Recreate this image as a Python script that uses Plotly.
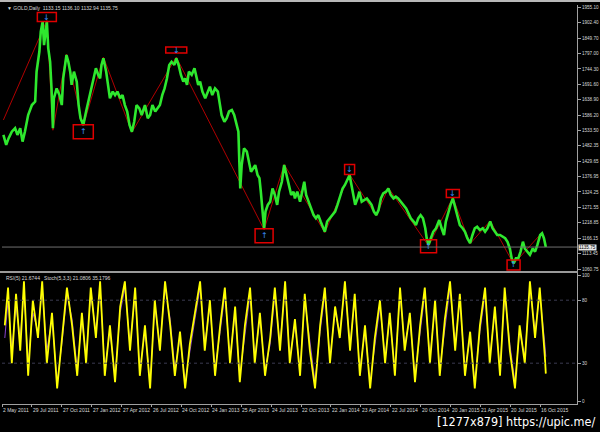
import plotly.graph_objects as go

# ---------------- data ----------------
date_labels = ["2 May 2011", "29 Jul 2011", "27 Oct 2011", "27 Jan 2012", "27 Apr 2012",
               "26 Jul 2012", "24 Oct 2012", "24 Jan 2013", "25 Apr 2013", "24 Jul 2013",
               "22 Oct 2013", "22 Jan 2014", "23 Apr 2014", "22 Jul 2014", "20 Oct 2014",
               "20 Jan 2015", "21 Apr 2015", "20 Jul 2015", "16 Oct 2015"]
bars_per_label = 64

price_bar = [3, 9, 14, 21, 28, 33, 39, 44, 49, 56, 64, 71, 74, 80, 83, 87, 90, 94, 96, 99,
             103, 106, 109, 111, 117, 123, 128, 131, 135, 138, 142, 146, 149, 154, 160, 164, 168, 174, 180, 185,
             190, 196, 201, 206, 210, 213, 217, 223, 228, 231, 237, 242, 247, 253, 258, 263, 268, 273, 278, 283,
             288, 294, 299, 304,
             306, 312, 317, 322, 328, 333, 338, 343, 348, 353, 358, 363, 369, 373, 378, 383, 388, 392, 396, 400,
             406, 412, 417, 420, 424, 429, 435, 440, 445, 450, 456, 462, 467, 470, 476, 481, 486, 492, 497, 502,
             506, 508, 510, 513, 518, 524, 529, 533, 538, 542, 547, 551, 554, 557, 561, 564, 569, 574, 579, 584,
             589, 593, 599, 604, 609, 614, 619, 624,
             627, 632, 638, 644, 647, 651, 656, 661, 667, 672, 677, 682, 688, 691, 696, 702, 708, 713, 718, 724,
             729, 734, 739, 744, 748, 752, 756, 761, 765, 770, 775, 781, 786, 791, 796, 801, 806, 811, 816, 822,
             827, 832, 838, 843, 848, 853, 859, 865, 870, 875, 881, 886, 891, 896, 901, 906, 909, 913, 918, 923,
             929, 934,
             936, 941, 946, 950, 955, 960, 965, 970, 975, 980, 986, 991, 996, 1002, 1007, 1012, 1017, 1023, 1029, 1034,
             1039, 1045, 1050, 1055, 1060, 1066, 1072, 1077, 1082, 1087, 1091, 1095, 1100, 1105, 1110, 1115, 1119, 1124, 1130, 1136,
             1141, 1146, 1152, 1156, 1160, 1164]
price = [1519, 1485, 1507, 1530, 1542, 1519, 1542, 1496, 1530, 1587, 1621, 1633, 1735, 1804, 1872, 1906, 1826, 1895, 1906, 1815,
         1769, 1678, 1542, 1644, 1678, 1655, 1621, 1712, 1758, 1792, 1769, 1735, 1690, 1735, 1701, 1621, 1576, 1553, 1599, 1633,
         1667, 1712, 1747, 1724, 1712, 1758, 1781, 1735, 1667, 1644, 1667, 1655, 1667, 1644, 1655, 1621, 1599, 1553, 1530, 1564,
         1621, 1610, 1587, 1610,
         1621, 1576, 1587, 1621, 1599, 1610, 1621, 1655, 1678, 1712, 1758, 1769, 1758, 1781, 1758, 1724, 1701, 1712, 1690, 1735,
         1724, 1747, 1712, 1690, 1701, 1667, 1644, 1667, 1684, 1655, 1678, 1667, 1621, 1587, 1564, 1576, 1599, 1604, 1587, 1553,
         1530, 1428, 1336, 1416, 1473, 1462, 1416, 1393, 1405, 1416, 1382, 1371, 1325, 1268, 1200, 1257, 1280, 1291, 1336, 1314,
         1280, 1325, 1359, 1416, 1382, 1359, 1314, 1325,
         1302, 1325, 1291, 1336, 1359, 1314, 1291, 1268, 1245, 1234, 1245, 1223, 1200, 1188, 1223, 1234, 1245, 1257, 1280, 1314,
         1336, 1348, 1365, 1382, 1348, 1314, 1280, 1302, 1325, 1291, 1297, 1302, 1291, 1280, 1257, 1245, 1262, 1302, 1319, 1325,
         1336, 1314, 1302, 1308, 1302, 1291, 1280, 1268, 1251, 1234, 1223, 1211, 1234, 1245, 1234, 1200, 1166, 1143, 1166, 1188,
         1200, 1223,
         1228, 1200, 1177, 1223, 1257, 1280, 1302, 1268, 1234, 1211, 1200, 1188, 1166, 1149, 1177, 1200, 1205, 1194, 1200, 1188,
         1200, 1223, 1200, 1188, 1177, 1177, 1171, 1166, 1154, 1131, 1097, 1080, 1097, 1097, 1120, 1154, 1131, 1120, 1109, 1131,
         1120, 1143, 1177, 1183, 1166, 1136]

zz_bar = [3, 96, 109, 138, 174, 217, 278, 373, 561, 604, 691, 744, 801, 827, 913, 965, 1002, 1045, 1095, 1156]
zz_price = [1570, 1910, 1535, 1795, 1550, 1785, 1528, 1785, 1195, 1418, 1185, 1384, 1243, 1338, 1140, 1305, 1147, 1225, 1078, 1185]

box_pivots = [1, 4, 7, 8, 11, 14, 15, 18]
box_is_high = [True, False, True, False, True, False, True, False]

last_price = 1135.75
price_ticks = [1955.10, 1902.40, 1849.70, 1797.00, 1744.30, 1691.60, 1638.90, 1586.20, 1533.50,
               1482.35, 1429.65, 1376.95, 1324.25, 1271.55, 1218.85, 1166.15, 1113.45, 1060.75]

osc_bar = [6, 13, 21, 30, 39, 47, 56, 66, 77, 86, 96, 107, 118, 128, 139, 150, 161, 171, 180, 190,
           201, 210, 220, 231, 242, 253, 263, 274, 285, 295, 306, 317, 327, 338, 349, 360, 370, 381, 392, 402,
           413, 424, 434, 445, 456, 467, 477, 488, 499, 509, 520, 531, 541, 552, 563, 574, 584, 595, 606, 616,
           627, 638, 648, 659, 670, 681, 691, 702, 713, 723, 734, 745, 755, 766, 777, 788, 798, 809, 820, 830,
           841, 852, 862, 873, 884, 895, 905, 916, 927, 937, 948, 959, 970, 980, 991, 1002, 1012, 1023, 1034, 1044,
           1055, 1066, 1076, 1087, 1098, 1108, 1119, 1130, 1141, 1151, 1162, 1164]
rsi = [60, 90, 30, 85, 40, 95, 20, 80, 50, 95, 30, 70, 10, 50, 90, 60, 20, 70, 30, 90,
       50, 95, 20, 60, 15, 75, 95, 40, 90, 20, 60, 10, 80, 40, 95, 60, 20, 55, 10, 45,
       70, 95, 40, 80, 20, 60, 90, 30, 75, 15, 60, 90, 30, 70, 20, 50, 90, 40, 95, 30,
       65, 20, 85, 40, 10, 60, 90, 30, 75, 50, 95, 40, 85, 20, 60, 10, 50, 80, 30, 70,
       20, 90, 40, 70, 15, 60, 90, 30, 80, 20, 65, 95, 40, 85, 20, 55, 10, 60, 90, 30,
       75, 20, 90, 40, 10, 60, 30, 95, 50, 90, 35, 21.7]
stoch = [50, 80, 40, 75, 50, 88, 30, 70, 55, 90, 40, 65, 15, 45, 85, 65, 25, 65, 35, 85,
         55, 90, 25, 55, 20, 70, 90, 45, 85, 25, 55, 15, 75, 45, 90, 65, 25, 50, 15, 40,
         65, 90, 45, 75, 25, 55, 85, 35, 70, 20, 55, 85, 35, 65, 25, 45, 85, 45, 90, 35,
         60, 25, 80, 45, 15, 55, 85, 35, 70, 55, 90, 45, 80, 25, 55, 15, 45, 75, 35, 65,
         25, 85, 45, 65, 20, 55, 85, 35, 75, 25, 60, 90, 45, 80, 25, 50, 15, 55, 85, 35,
         70, 25, 85, 45, 15, 55, 35, 90, 55, 85, 45, 35.2]
osc_levels = [80, 30]
osc_ticks = [100, 80, 30, 0]

# ---------------- figure ----------------
W, H = 600, 432
ML, MR, MT, MB = 2, 23, 5, 28
plot_h = H - MT - MB
split_px = 272
osc_top_px = 273
price_dom = [(H - MB - split_px) / plot_h, 1]
osc_dom = [0, (H - MB - osc_top_px) / plot_h]

def px_x(px):
    return (px - ML) / (W - ML - MR)

def px_y(py):
    return (H - MB - py) / plot_h

fig = go.Figure()
fig.add_trace(go.Scatter(x=zz_bar, y=zz_price, mode="lines",
                         line=dict(color="#b00000", width=1), hoverinfo="skip"))
fig.add_trace(go.Scatter(x=price_bar, y=price, mode="lines",
                         line=dict(color="#2ee82e", width=2.6), hoverinfo="skip"))
fig.add_trace(go.Scatter(x=osc_bar, y=stoch, mode="lines", yaxis="y2",
                         line=dict(color="#8a44cc", width=1), hoverinfo="skip"))
fig.add_trace(go.Scatter(x=osc_bar, y=rsi, mode="lines", yaxis="y2",
                         line=dict(color="#ffff00", width=1.8), hoverinfo="skip"))

shapes = []
box_w = [19, 20, 21, 18, 10, 16, 13, 13]
box_dy = [(-1, 8), (-13, 1), (4, 10), (-13, 1), (0, 10), (-7, 6), (0, 8), (-6, 4)]
annotations = []
for i, k in enumerate(box_pivots):
    b, p = zz_bar[k], zz_price[k]
    w = box_w[i]
    d0, d1 = box_dy[i]
    shapes.append(dict(type="rect", xref="x", yref="y", xsizemode="pixel", ysizemode="pixel",
                       xanchor=b, yanchor=p, x0=-w / 2, x1=w / 2, y0=d0, y1=d1,
                       line=dict(color="#e00000", width=1.5)))
    annotations.append(dict(x=b, y=p, xref="x", yref="y", yshift=(d0 + d1) / 2,
                            text="↓" if box_is_high[i] else "↑", showarrow=False,
                            font=dict(color="#3a8cff", size=8, family="DejaVu Sans")))

# current price line
shapes.append(dict(type="line", xref="x domain", yref="y", x0=0, x1=1, y0=last_price, y1=last_price,
                   line=dict(color="#707070", width=1)))
# oscillator levels
for lv in osc_levels:
    shapes.append(dict(type="line", xref="x domain", yref="y2", x0=0, x1=1, y0=lv, y1=lv,
                       line=dict(color="#3a3a50", width=1, dash="dot")))
# panel separator
shapes.append(dict(type="line", xref="paper", yref="paper", x0=px_x(0), x1=px_x(578),
                   y0=px_y(272), y1=px_y(272), line=dict(color="#9a9a9a", width=2)))
# top bar
shapes.append(dict(type="rect", xref="paper", yref="paper", x0=px_x(0), x1=px_x(600),
                   y0=px_y(2), y1=px_y(0), fillcolor="#b8b8b8", line=dict(width=0)))

small = dict(family="Liberation Sans, Arial", size=5, color="#d8d8d8")
axfont = dict(family="Liberation Sans, Arial", size=4.6, color="#d8d8d8")
for i, lab in enumerate(date_labels):
    annotations.append(dict(x=i * bars_per_label, y=px_y(405), xref="x", yref="paper",
                            text=lab, showarrow=False, xanchor="left", yanchor="top",
                            xshift=-1, font=small))
annotations.append(dict(x=1, y=last_price, xref="x domain", yref="y", text="1135.75",
                        showarrow=False, xanchor="left", xshift=1, bgcolor="#e8e8e8",
                        font=dict(family="Liberation Sans, Arial", size=4.6, color="#000000"),
                        borderpad=0))
annotations.append(dict(x=px_x(5), y=px_y(8), xref="paper", yref="paper",
                        text="▼ GOLD,Daily  1133.15 1136.10 1132.94 1135.75",
                        showarrow=False, xanchor="left", yanchor="middle", font=small))
annotations.append(dict(x=px_x(4), y=px_y(278), xref="paper", yref="paper",
                        text="RSI(5) 21.6744   Stoch(5,3,3) 21.0806 35.1796",
                        showarrow=False, xanchor="left", yanchor="middle", font=small))
annotations.append(dict(x=px_x(597), y=px_y(421), xref="paper", yref="paper",
                        text="[1277x879] https://upic.me/", showarrow=False,
                        xanchor="right", yanchor="middle",
                        font=dict(family="DejaVu Sans Condensed, Liberation Sans", size=12.5, color="#ffffff")))

x_max = (W - MR - ML) * bars_per_label / 29.9

# oscillator scale: 100 at y=275px, 0 at y=401px
def osc_val(py):
    return (401 - py) / 1.26

fig.update_layout(
    width=W, height=H,
    margin=dict(l=ML, r=MR, t=MT, b=MB),
    paper_bgcolor="#000000", plot_bgcolor="#000000",
    showlegend=False,
    xaxis=dict(range=[0, x_max], anchor="y2", showgrid=False, zeroline=False,
               tickvals=[i * bars_per_label for i in range(len(date_labels))],
               showticklabels=False, ticks="outside", ticklen=2, tickcolor="#a0a0a0",
               showline=True, linecolor="#a0a0a0", linewidth=1),
    yaxis=dict(domain=price_dom, range=[1050.5, 1963.0], side="right", anchor="x",
               showgrid=False, zeroline=False, tickvals=price_ticks,
               ticktext=["%.2f" % v for v in price_ticks], ticks="outside", ticklen=3,
               tickcolor="#a0a0a0", showline=True, linecolor="#a0a0a0", linewidth=1,
               tickfont=axfont, automargin=False),
    yaxis2=dict(domain=osc_dom, range=[osc_val(H - MB), osc_val(osc_top_px)], side="right", anchor="x",
                showgrid=False, zeroline=False, tickvals=osc_ticks, ticks="outside",
                ticklen=3, tickcolor="#a0a0a0", showline=True, linecolor="#a0a0a0",
                linewidth=1, tickfont=axfont, automargin=False),
    shapes=shapes, annotations=annotations,
)

fig.write_html("out.html", config={"displayModeBar": False},
               post_script="document.body.style.margin='0';document.body.style.padding='0';document.body.style.overflow='hidden';")
